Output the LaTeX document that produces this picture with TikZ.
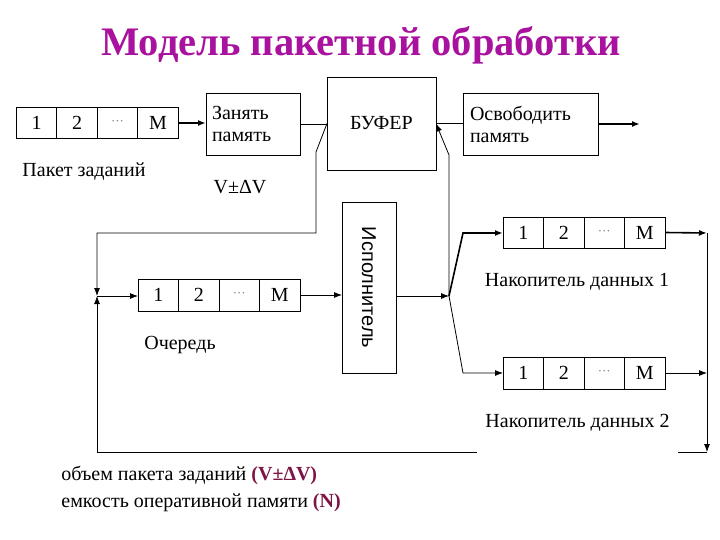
\documentclass[tikz,border=0pt]{standalone}
\usepackage{fontspec}
\setmainfont{Liberation Serif}
\newfontfamily\arialfont{Liberation Sans}
\usetikzlibrary{positioning,arrows.meta}

\definecolor{titlecol}{RGB}{168,18,158}
\definecolor{notecol}{RGB}{125,20,70}

\tikzset{
  cell/.style={draw,minimum width=40.5pt,minimum height=31pt,inner sep=0pt,outer sep=0pt},
  box/.style={draw,inner sep=0pt,outer sep=0pt},
  lbl/.style={inner sep=0pt}
}
\newcommand{\cdotsgray}{{\color{gray}\fontsize{13}{13}\selectfont\textperiodcentered\textperiodcentered\textperiodcentered}}

\begin{document}
\begin{tikzpicture}[x=1pt,y=-1pt,node distance=0pt,>={Latex[length=8pt,width=6pt]},font=\fontsize{20}{22}\selectfont,line width=0.8pt]
\useasboundingbox (0,0) rectangle (720,540);

\node (title) at (361,45) {\fontsize{40.5}{42}\selectfont\bfseries\color{titlecol}Модель пакетной обработки};

% batch of tasks
\node[cell] (pk1) at (36.5,123) {1};
\node[cell,right=of pk1] (pk2) {2};
\node[cell,right=of pk2] (pk3) {\cdotsgray};
\node[cell,right=of pk3] (pk4) {M};
\node[lbl] (pklbl) at (84,172) {Пакет заданий};

\node[box,text width=82pt,minimum height=62pt,inner xsep=6pt,align=left] (zanyat) at (253,124) {Занять\\память};
\node[box,minimum width=109pt,minimum height=93pt] (buffer) at (381.5,123.5) {БУФЕР};
\node[box,text width=121pt,minimum height=62pt,inner xsep=7pt,align=left] (osvob) at (530.5,124) {Освободить\\память};
\coordinate (out) at (640,124);
\node[lbl] (vdv) at (240,187) {V±ΔV};

% queue
\node[cell,minimum height=32pt] (och1) at (158.25,295) {1};
\node[cell,minimum height=32pt,right=of och1] (och2) {2};
\node[cell,minimum height=32pt,right=of och2] (och3) {\cdotsgray};
\node[cell,minimum height=32pt,right=of och3] (och4) {M};
\node[lbl] (ochlbl) at (180,345) {Очередь};

\node[box,minimum width=54pt,minimum height=171pt] (ispoln) at (369,287.5) {\rotatebox{-90}{\arialfont Исполнитель}};

% data stores
\node[cell] (nk11) at (523.25,232.5) {1};
\node[cell,right=of nk11] (nk12) {2};
\node[cell,right=of nk12] (nk13) {\cdotsgray};
\node[cell,right=of nk13] (nk14) {M};
\node[lbl] (nk1lbl) at (577,282) {Накопитель данных 1};

\node[cell,minimum height=32pt] (nk21) at (523.25,373) {1};
\node[cell,minimum height=32pt,right=of nk21] (nk22) {2};
\node[cell,minimum height=32pt,right=of nk22] (nk23) {\cdotsgray};
\node[cell,minimum height=32pt,right=of nk23] (nk24) {M};

% points of the lines
\coordinate (j) at (449,296);
\coordinate (j1) at (463,233);
\coordinate (j2) at (463,373);
\coordinate (fb) at (449,155);
\coordinate (bd) at (316,152);
\coordinate (bt) at (316,233);
\coordinate (lt) at (97,233);
\coordinate (lq) at (97,296);
\coordinate (lb) at (97,452);
\coordinate (r1) at (707,233);
\coordinate (r2) at (707,373);
\coordinate (rb) at (707,452);

\draw[->,line width=1.6pt] (pk4.east) -- (pk4.east -| zanyat.west);
\draw (zanyat.east) -- (zanyat.east -| buffer.west);
\draw[->] (buffer.west) -- (bd) -- (bt) -- (lt) -- (lq);
\draw (buffer.east) -- (buffer.east -| osvob.west);
\draw[->,line width=1.6pt] (osvob.east) -- (out);
\draw[->] (lq) -- (lq -| och1.west);
\draw[->] (och4.east) -- (och4.east -| ispoln.west);
\draw[->] (ispoln.east |- j) -- (j);
\draw[->,line width=1.6pt] (j) -- (j1) -- (j1 -| nk11.west);
\draw[->] (j) -- (j2) -- (nk21.west);
\draw[->] (j) -- (fb) -- (buffer.east);
\draw[->,line width=1.6pt] (nk14.east) -- (r1);
\draw[->] (nk24.east) -- (r2);
\draw[->] (r1) -- (rb);
\draw[->] (rb) -- (lb) -- (lq);

\node[lbl,fill=white,inner xsep=8pt,text depth=31pt,anchor=base] (nk2lbl) at (577.5,427) {Накопитель данных 2};

\node[lbl,anchor=north west,align=left,font=\fontsize{20}{27}\selectfont] (note) at (61,466)
  {объем пакета заданий {\bfseries\color{notecol}(V±ΔV)}\\емкость оперативной памяти {\bfseries\color{notecol}(N)}};
\end{tikzpicture}
\end{document}
